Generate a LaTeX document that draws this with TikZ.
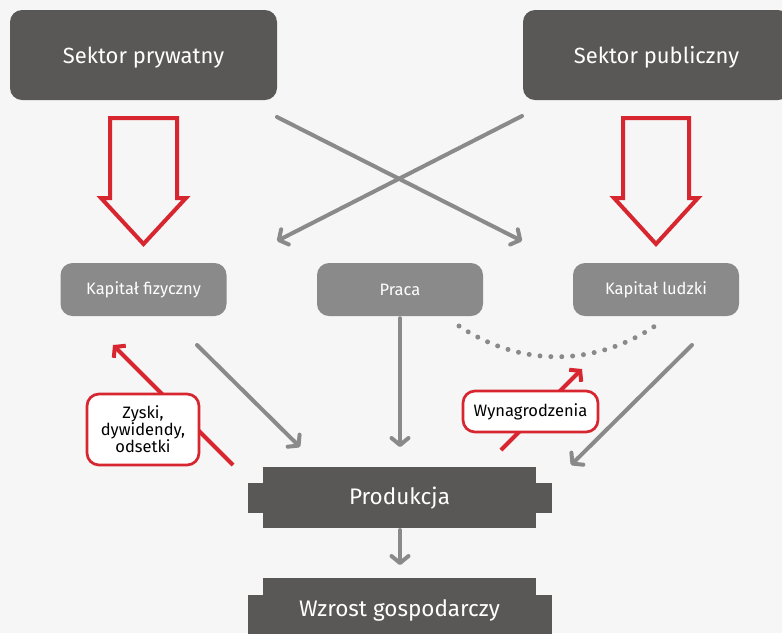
\documentclass[tikz,border=0pt]{standalone}
\usepackage{fontspec}
\setmainfont{Fira Sans}
\usetikzlibrary{arrows.meta}
\definecolor{bg}{HTML}{F6F6F6}
\definecolor{dark}{HTML}{595856}
\definecolor{mid}{HTML}{8A8A8A}
\definecolor{redc}{HTML}{D7262F}
\begin{document}
\begin{tikzpicture}[x=1pt,y=-1pt,
  sector/.style={fill=dark, rounded corners=12pt, text=white, minimum width=267pt, minimum height=90pt, inner sep=0pt, font=\fontsize{22}{26}\selectfont},
  capbox/.style={fill=mid, rounded corners=12pt, text=white, minimum width=166pt, minimum height=53pt, inner sep=0pt, font=\fontsize{16.5}{19}\selectfont},
  labelbox/.style={fill=white, draw=redc, line width=2.7pt, rounded corners=12pt, inner sep=0pt, align=center, font=\fontsize{16.5}{17}\selectfont},
  bigtxt/.style={text=white, inner sep=0pt, font=\fontsize{22.5}{26}\selectfont},
  grayarrow/.style={draw=mid, line width=4pt, line cap=round, -{Straight Barb[length=7pt,width=17pt,round]}},
  redarrow/.style={draw=redc, line width=4pt, -{Straight Barb[length=7pt,width=17pt]}},
  blockarrow/.style={draw=redc, line width=4pt, line join=miter},
  dotline/.style={draw=mid, line width=5pt, line cap=round, dash pattern=on 0pt off 10.9pt}
]
\fill[bg] (0,0) rectangle (782,633);
\useasboundingbox (0,0) rectangle (782,633);

% top boxes
\node[sector] (priv) at (143.5,55) {\raisebox{0pt}[21pt][5pt]{Sektor prywatny}};
\node[sector] (publ) at (656.5,55) {\raisebox{0pt}[21pt][5pt]{Sektor publiczny}\hspace{3pt}};

% block arrows
\draw[blockarrow] (110,118) -- (177,118) -- (177,198) -- (186,198) -- (143.5,244) -- (101,198) -- (110,198) -- cycle;
\draw[blockarrow] (623,118) -- (689,118) -- (689,198) -- (698,198) -- (656,244) -- (614,198) -- (623,198) -- cycle;

% capital boxes
\node[capbox] (kf) at (143.5,289.5) {Kapitał fizyczny};
\node[capbox] (pr) at (400,289.5) {Praca};
\node[capbox] (kl) at (656,289.5) {Kapitał ludzki};

% crossing arrows
\coordinate (c1s) at (277,117);
\coordinate (c1e) at (522,241);
\coordinate (c2s) at (522,116);
\coordinate (c2e) at (277,241);
\draw[grayarrow] (c1s) -- (c1e);
\draw[grayarrow] (c2s) -- (c2e);

% production shapes
\fill[dark] (263,467) rectangle (536,528);
\fill[dark] (248,483) rectangle (552,513);
\node[bigtxt] (prod) at (399.5,498.5) {Produkcja};
\fill[dark] (263,578) rectangle (536,640);
\fill[dark] (248,595) rectangle (552,640);
\node[bigtxt] (wzr) at (399.5,610) {Wzrost gospodarczy};

% gray arrows to production
\coordinate (a1s) at (197,345);
\coordinate (a1e) at (300,447);
\coordinate (a3s) at (692,345);
\coordinate (a3e) at (571,465);
\draw[grayarrow] (a1s) -- (a1e);
\draw[grayarrow] (pr.south) ++(0,2) -- (400,447);
\draw[grayarrow] (a3s) -- (a3e);
\draw[grayarrow] (400,530) -- (400,565);

% dotted arc
\coordinate (d1) at (459,326);
\coordinate (d2) at (655,326);
\draw[dotline] (d1) .. controls (520,367) and (594,367) .. (d2);

% red arrows with labels
\coordinate (r1s) at (233,465);
\coordinate (r1e) at (113,345);
\draw[redarrow] (r1s) -- (r1e);
\node[labelbox, minimum width=112pt, minimum height=71pt] (zys) at (143,429.5) {Zyski,\\dywidendy,\\odsetki};

\coordinate (r2s) at (501,450);
\coordinate (r2e) at (582,369);
\draw[redarrow] (r2s) -- (r2e);
\node[labelbox, minimum width=135pt, minimum height=41pt] (wyn) at (530.5,411.5) {Wynagrodzenia};
\end{tikzpicture}
\end{document}
